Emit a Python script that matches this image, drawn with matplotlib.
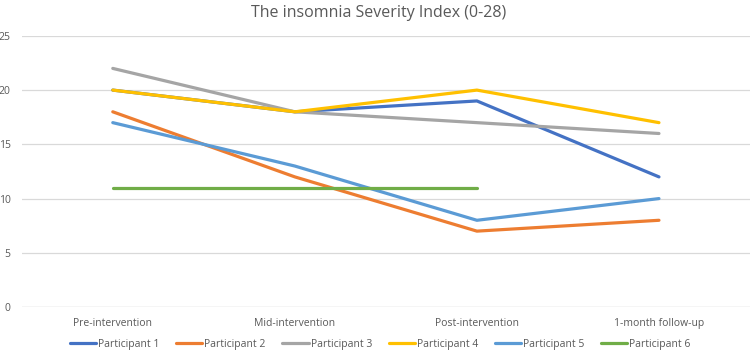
import matplotlib
matplotlib.use("Agg")
import matplotlib.pyplot as plt
import numpy as np

categories = ["Pre-intervention", "Mid-intervention", "Post-intervention", "1-month follow-up"]
p1 = [20, 18, 19, 12]
p2 = [18, 12, 7, 8]
p3 = [22, 18, 17, 16]
p4 = [20, 18, 20, 17]
p5 = [17, 13, 8, 10]
p6 = [11, 11, 11, np.nan]
series = [("Participant 1", p1, "#4472C4"),
          ("Participant 2", p2, "#ED7D31"),
          ("Participant 3", p3, "#A5A5A5"),
          ("Participant 4", p4, "#FFC000"),
          ("Participant 5", p5, "#5B9BD5"),
          ("Participant 6", p6, "#70AD47")]

plt.rcParams['font.family'] = ['Open Sans', 'DejaVu Sans']
txt = "#595959"

fig = plt.figure(figsize=(7.5, 3.55), dpi=100)
ax = fig.add_axes([0.029, 0.135, 0.971, 0.764])
x = np.arange(len(categories))
for name, vals, c in series:
    ax.plot(x, vals, color=c, lw=2.3, label=name, solid_capstyle='round')

ax.set_xlim(-0.5, 3.5)
ax.set_ylim(0, 25)
ax.set_yticks([0, 5, 10, 15, 20, 25])
ax.set_xticks(x)
ax.set_xticklabels(categories)
ax.tick_params(axis='both', length=0, colors=txt, labelsize=7.5)
ax.tick_params(axis='x', pad=8)
ax.tick_params(axis='y', pad=8)
ax.grid(axis='y', color='#D9D9D9', lw=0.9)
ax.set_axisbelow(True)
for s in ax.spines.values():
    s.set_visible(False)
ax.axhline(0, color='#D9D9D9', lw=0.9, zorder=0)

fig.text(0.505, 0.962, "The insomnia Severity Index (0-28)", ha='center', va='center',
         fontsize=11.5, color=txt)
fig.legend(loc='center', bbox_to_anchor=(0.507, 0.03), ncol=6, frameon=False,
           fontsize=7.5, handlelength=2.5, handletextpad=0.2, columnspacing=1.6,
           labelcolor=txt)
fig.savefig("out.png", dpi=100)
